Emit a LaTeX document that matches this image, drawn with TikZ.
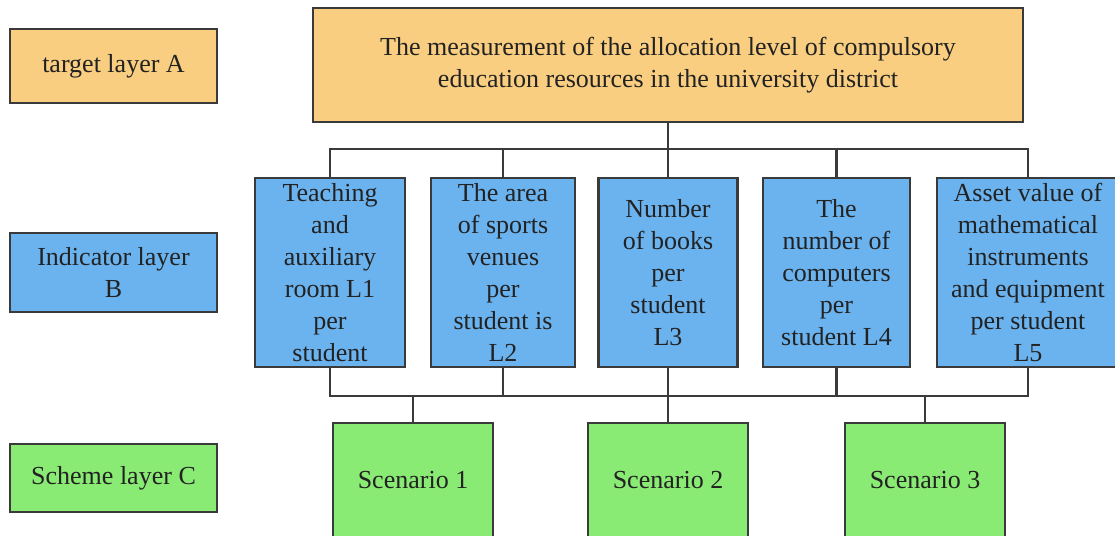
\documentclass[tikz,border=0pt]{standalone}
\usepackage{fontspec}
\setmainfont{Liberation Serif}
\definecolor{goalfill}{HTML}{F9CE80}
\definecolor{critfill}{HTML}{6BB3EF}
\definecolor{planfill}{HTML}{8AEB74}
\definecolor{edgegray}{HTML}{3A3A3A}
\definecolor{inkgray}{HTML}{222222}
\usetikzlibrary{positioning,calc}

\begin{document}
\begin{tikzpicture}[
  font=\fontsize{18.5}{22.8}\selectfont,
  box/.style={draw=edgegray, line width=2.1pt, text=inkgray, align=center, inner sep=2pt},
  layer/.style={box, minimum width=5.175cm},
  goalbox/.style={box, fill=goalfill},
  critbox/.style={box, fill=critfill, minimum height=4.725cm},
  planbox/.style={box, fill=planfill, minimum width=4cm, minimum height=2.85cm},
  link/.style={draw=edgegray, line width=2pt},
]
  \useasboundingbox (0,0) rectangle (27.875,-13.4);
  % layer captions on the left
  \node[layer, fill=goalfill, minimum height=1.85cm] (capA) at (2.8375,-1.65) {target layer A};
  \node[layer, fill=critfill, minimum height=1.975cm] (capB) at (2.8375,-6.8125) {Indicator layer\\B};
  \node[layer, fill=planfill, minimum height=1.7cm] (capC) at (2.8375,-11.95) {Scheme layer C};
  % goal
  \node[goalbox, minimum width=17.75cm, minimum height=2.85cm] (goal) at (16.7,-1.625)
    {The measurement of the allocation level of compulsory\\education resources in the university district};
  % indicators
  \node[critbox, minimum width=3.75cm]  (L1) at (8.25,-6.8125)    {Teaching\\and\\auxiliary\\room L1\\per\\student};
  \node[critbox, minimum width=3.6cm]   (L2) at (12.575,-6.8125)  {The area\\of sports\\venues\\per\\student is\\L2};
  \node[critbox, minimum width=3.475cm] (L3) at (16.7,-6.8125)    {Number\\of books\\per\\student\\L3};
  \node[critbox, minimum width=3.675cm] (L4) at (20.9125,-6.8125) {The\\number of\\computers\\per\\student L4};
  \node[critbox, minimum width=4.55cm]  (L5) at (25.7,-6.8125)    {Asset value of\\mathematical\\instruments\\and equipment\\per student\\L5};
  % schemes
  \node[planbox] (S1) at (10.325,-12.0) {Scenario 1};
  \node[planbox] (S2) at (16.7,-12.0)   {Scenario 2};
  \node[planbox] (S3) at (23.125,-12.0) {Scenario 3};
  % buses
  \coordinate (topbus) at (0,-3.725);
  \coordinate (botbus) at (0,-9.9);
  \draw[link] (goal.south) -- (goal.south |- topbus);
  \draw[link] (L1.north) |- (L5.north |- topbus) -- (L5.north);
  \draw[link] (L2.north) -- (L2.north |- topbus);
  \draw[link] (L3.north) -- (L3.north |- topbus);
  \draw[link] (L4.north) -- (L4.north |- topbus);
  \draw[link] (L1.south) |- (L5.south |- botbus) -- (L5.south);
  \draw[link] (L2.south) -- (L2.south |- botbus);
  \draw[link] (L3.south) -- (L3.south |- botbus);
  \draw[link] (L4.south) -- (L4.south |- botbus);
  \draw[link] (S1.north) -- (S1.north |- botbus);
  \draw[link] (S2.north) -- (S2.north |- botbus);
  \draw[link] (S3.north) -- (S3.north |- botbus);
\end{tikzpicture}
\end{document}
